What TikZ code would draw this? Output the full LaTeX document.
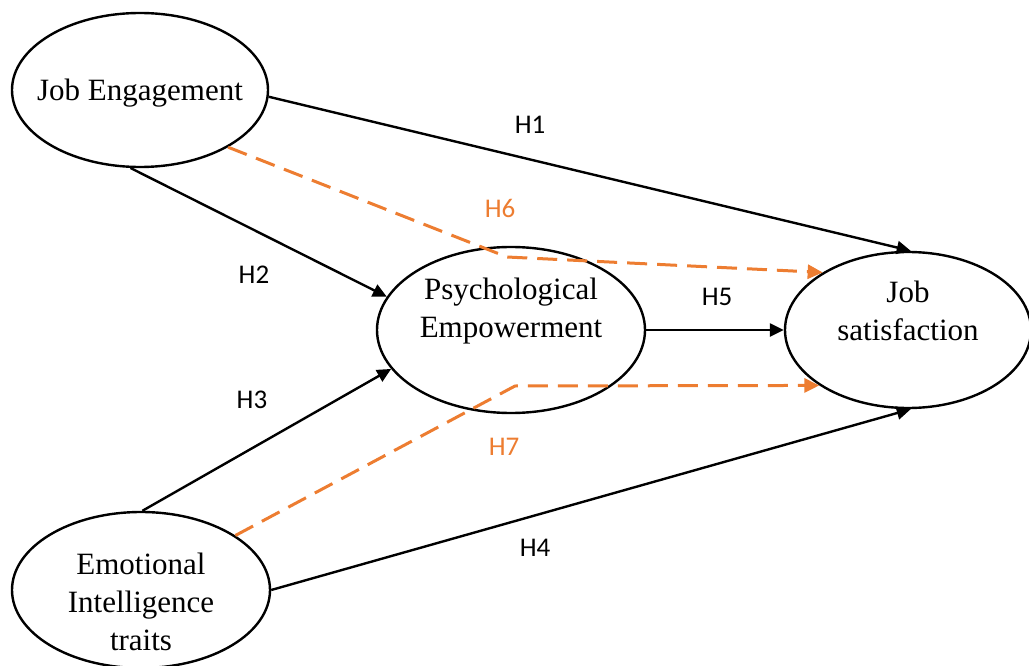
\documentclass[tikz,border=0pt]{standalone}
\usepackage{fontspec}
\setmainfont{Liberation Serif}
\newfontfamily\labelfont{Carlito}
\usetikzlibrary{arrows.meta,shapes.geometric}
\definecolor{hyporange}{RGB}{237,125,49}
\tikzset{
  construct/.style={ellipse, draw=black, line width=2.4pt, fill=white, inner sep=0pt},
  ctext/.style={align=center, inner sep=0pt, font=\fontsize{31}{38}\selectfont},
  hpath/.style={line width=2.4pt, draw=black, -{Triangle[length=14pt,width=13pt]}},
  medpath/.style={line width=3pt, draw=hyporange, dash pattern=on 20pt off 10pt, -{Triangle[length=15pt,width=14pt]}},
  hlabel/.style={font=\labelfont\fontsize{27}{32}\selectfont, text=black, inner sep=0pt},
  olabel/.style={hlabel, text=hyporange}
}
\begin{document}
\begin{tikzpicture}[x=1pt,y=-1pt]
\useasboundingbox (0,0) rectangle (1029,666);
\node[construct, minimum width=256pt, minimum height=154pt] (je) at (140,90) {};
\node[construct, minimum width=268pt, minimum height=166pt] (pe) at (511,330) {};
\node[construct, minimum width=246pt, minimum height=156pt] (js) at (908,330) {};
\node[construct, minimum width=258pt, minimum height=156pt] (ei) at (141,590) {};
\node[ctext] (jet) at (140,93) {Job Engagement};
\node[ctext] (pet) at (511,311) {Psychological\\Empowerment};
\node[ctext] (jst) at (908,311) {Job\\satisfaction};
\node[ctext] (eit) at (141,602) {Emotional\\Intelligence\\traits};
\coordinate (b6) at (507,257);
\coordinate (b7) at (515,386);
% paths
\draw[hpath] (je.-3) -- (js.88);
\draw[hpath] (je.-97) -- (pe.165);
\draw[hpath] (ei.89) -- (pe.198.6);
\draw[hpath] (ei.east) -- (js.-88);
\draw[hpath] (pe.east) -- (js.west);
\draw[medpath] (je.-33) -- (b6) -- (js.146.5);
\draw[medpath] (ei.30.4) -- (b7) -- (js.212.6);
% labels
\node[hlabel] (h1) at (530,125) {H1};
\node[hlabel] (h2) at (254,275) {H2};
\node[hlabel] (h3) at (252,400) {H3};
\node[hlabel] (h4) at (535,548) {H4};
\node[hlabel] (h5) at (717,297) {H5};
\node[olabel] (h6) at (500,208) {H6};
\node[olabel] (h7) at (504,447) {H7};
\end{tikzpicture}
\end{document}
